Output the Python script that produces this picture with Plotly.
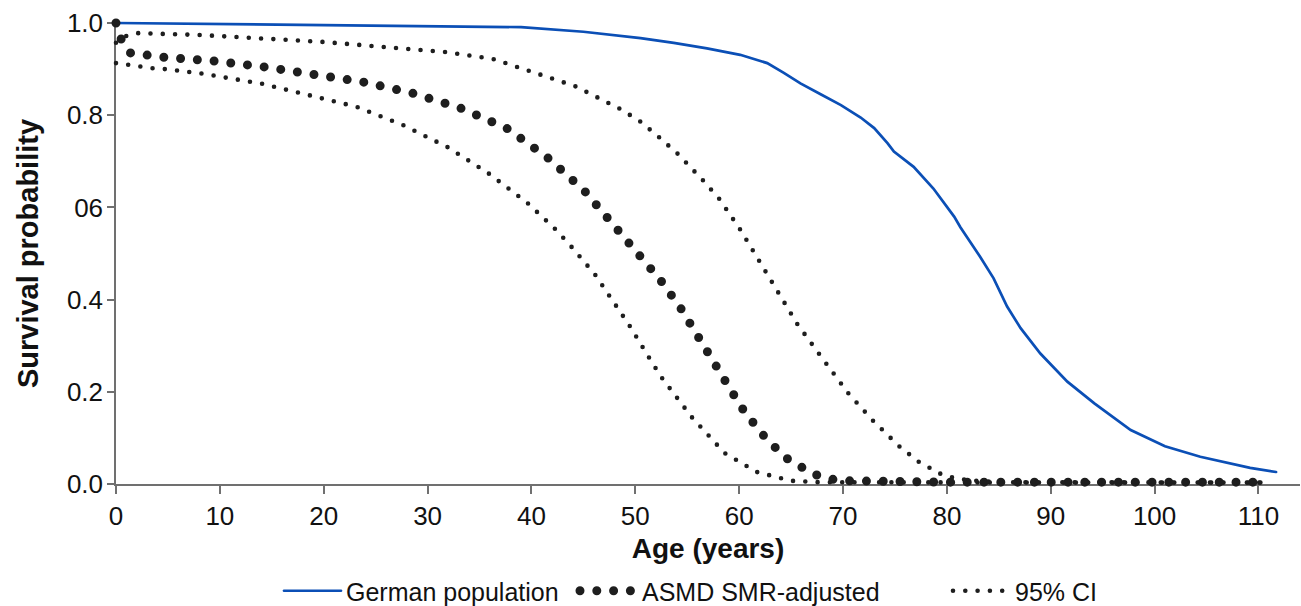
import plotly.graph_objects as go

# ---------------- data ----------------
ger_age = [0, 10, 20, 30, 39, 45, 50.5, 53.7, 56.9, 60.1, 62.7, 64.3, 65.9, 67.8,
           69.8, 71.7, 73.0, 74.3, 74.9, 76.8, 78.7, 80.7, 81.3, 83.2, 84.5, 85.8,
           87.1, 89.0, 91.6, 94.2, 97.7, 101.0, 104.4, 109.2, 111.7]
ger_surv = [1.000, 0.998, 0.996, 0.994, 0.991, 0.981, 0.967, 0.957, 0.945, 0.931,
            0.913, 0.892, 0.869, 0.846, 0.822, 0.795, 0.772, 0.739, 0.721, 0.688,
            0.641, 0.580, 0.557, 0.493, 0.446, 0.385, 0.338, 0.283, 0.222, 0.175,
            0.117, 0.082, 0.059, 0.035, 0.026]

asmd_age = [0, 0.5, 1.4, 3.0, 4.5, 6.2, 9.3, 14.2, 19.0, 23.8, 28.5, 33.1, 37.6,
            41.5, 45.1, 48.3, 50.4, 52.4, 54.3, 57.6, 60.2, 62.1, 64.4, 67.1, 68.7,
            70.2, 75, 80, 90, 100, 111]
asmd_surv = [1.000, 0.965, 0.935, 0.929, 0.926, 0.923, 0.918, 0.905, 0.889, 0.872,
             0.848, 0.816, 0.772, 0.709, 0.636, 0.553, 0.499, 0.443, 0.384, 0.260,
             0.167, 0.111, 0.058, 0.022, 0.011, 0.007, 0.004, 0.004, 0.004, 0.004,
             0.004]

lo_age = [0, 1.2, 2.3, 3.5, 4.7, 5.9, 7.0, 8.1, 14.1, 18.7, 23.2, 27.6, 31.9, 35.8,
          39.6, 42.2, 43.8, 46.1, 49.4, 51.3, 52.5, 55.4, 58.6, 61.7, 65.0, 67.4,
          75, 90, 111]
lo_surv = [0.913, 0.909, 0.905, 0.902, 0.900, 0.896, 0.894, 0.891, 0.868, 0.844,
           0.818, 0.779, 0.731, 0.675, 0.610, 0.555, 0.516, 0.455, 0.345, 0.275,
           0.232, 0.146, 0.067, 0.026, 0.007, 0.004, 0.003, 0.003, 0.003]

hi_age = [0, 1.0, 2.1, 5.7, 8.1, 19.9, 25.7, 31.7, 36.3, 39.9, 44.2, 48.6, 50.5,
          52.3, 54.1, 56.5, 58.1, 60.1, 61.9, 63.7, 65.6, 67.7, 69.1, 70.5, 72.9,
          75.4, 77.3, 78.3, 79.4, 80.4, 82, 85, 111]
hi_surv = [0.957, 0.972, 0.978, 0.976, 0.974, 0.959, 0.948, 0.937, 0.922, 0.896,
           0.863, 0.813, 0.786, 0.752, 0.716, 0.659, 0.618, 0.552, 0.484, 0.414,
           0.347, 0.282, 0.239, 0.197, 0.137, 0.082, 0.048, 0.035, 0.022, 0.015,
           0.008, 0.004, 0.003]

x_ticks = [0, 10, 20, 30, 40, 50, 60, 70, 80, 90, 100, 110]
y_ticks = [0.0, 0.2, 0.4, 0.6, 0.8, 1.0]
y_tick_text = ["0.0", "0.2", "0.4", "06", "0.8", "1.0"]

# ---------------- layout geometry ----------------
W, H = 1301, 606
PX0, PX1, PY0, PY1 = 116, 1300, 23, 484  # visible axes box in pixels
XR = [0, 114]
YR = [0, 1]

# paper area = whole figure (margins 0)
dx0, dx1 = PX0 / W, PX1 / W
dy0, dy1 = (H - PY1) / H, (H - PY0) / H
sx = (XR[1] - XR[0]) / (PX1 - PX0)
sy = (YR[1] - YR[0]) / (PY1 - PY0)
x2r = [XR[0] - PX0 * sx, XR[1] + (W - PX1) * sx]
y2r = [YR[0] - (H - PY1) * sy, YR[1] + PY0 * sy]

FONT = "Liberation Sans, Arial, sans-serif"
AXC = "#707070"
DOT = "#1e1e1e"
BLUE = "#0b4fb6"
LEG_Y = (H - 591) / H

fig = go.Figure()
fig.add_trace(go.Scatter(x=[None], y=[None], xaxis="x", yaxis="y",
                         showlegend=False, hoverinfo="skip"))

fig.add_trace(go.Scatter(x=ger_age, y=ger_surv, mode="lines", name="German population",
                         line=dict(color=BLUE, width=2.7), xaxis="x2", yaxis="y2",
                         legend="legend"))
fig.add_trace(go.Scatter(x=asmd_age, y=asmd_surv, mode="lines", name="ASMD SMR-adjusted",
                         line=dict(color=DOT, width=9, dash="0px,16.8px"),
                         xaxis="x2", yaxis="y2", legend="legend2"))
fig.add_trace(go.Scatter(x=lo_age, y=lo_surv, mode="lines", name="95% CI",
                         line=dict(color=DOT, width=4.6, dash="0px,12.3px"),
                         legendgroup="ci", xaxis="x2", yaxis="y2", legend="legend3"))
fig.add_trace(go.Scatter(x=hi_age, y=hi_surv, mode="lines", name="95% CI",
                         line=dict(color=DOT, width=4.6, dash="0px,12.3px"),
                         legendgroup="ci", showlegend=False, xaxis="x2", yaxis="y2",
                         legend="legend3"))

def leg(px):
    return dict(orientation="h", x=(px - 5) / W, xanchor="left", y=LEG_Y, yanchor="middle",
                font=dict(size=25, family=FONT, color="#111"), itemwidth=57,
                bgcolor="rgba(0,0,0,0)", borderwidth=0)

fig.update_layout(
    width=W, height=H,
    margin=dict(l=0, r=0, t=0, b=0, pad=0, autoexpand=False),
    paper_bgcolor="white", plot_bgcolor="rgba(0,0,0,0)",
    font=dict(family=FONT, color="#111111", size=24),
    showlegend=True,
    legend=leg(284), legend2=leg(580), legend3=leg(953),
    xaxis=dict(domain=[dx0, dx1], range=XR, tickvals=x_ticks, automargin=False,
               ticks="outside", ticklen=8, tickwidth=1.5, tickcolor=AXC,
               showline=True, linecolor=AXC, linewidth=1.5,
               showgrid=False, zeroline=False, anchor="y",
               tickfont=dict(size=26, family=FONT, color="#111"),
               title=dict(text="<b>Age (years)</b>", font=dict(size=28, family=FONT, color="#111"),
                          standoff=8)),
    yaxis=dict(domain=[dy0, dy1], range=YR, tickvals=y_ticks, ticktext=y_tick_text,
               automargin=False, ticklabelstandoff=-1,
               ticks="outside", ticklen=7, tickwidth=1.5, tickcolor=AXC,
               showline=True, linecolor=AXC, linewidth=1.5,
               showgrid=False, zeroline=False, anchor="x",
               tickfont=dict(size=26, family=FONT, color="#111"),
               title=dict(text="<b>Survival probability</b>", font=dict(size=29, family=FONT, color="#111"),
                          standoff=20)),
    xaxis2=dict(domain=[0, 1], range=x2r, visible=False, anchor="y2",
                showgrid=False, zeroline=False),
    yaxis2=dict(domain=[0, 1], range=y2r, visible=False, anchor="x2",
                showgrid=False, zeroline=False),
)

page_fix = ("document.body.style.margin='0';"
            "document.documentElement.style.overflow='hidden';"
            "var s=document.createElement('style');"
            "s.textContent='path.js-line{stroke-linecap:round !important;}';"
            "document.head.appendChild(s);")

fig.write_html("out.html", post_script=page_fix, config={"displayModeBar": False})
